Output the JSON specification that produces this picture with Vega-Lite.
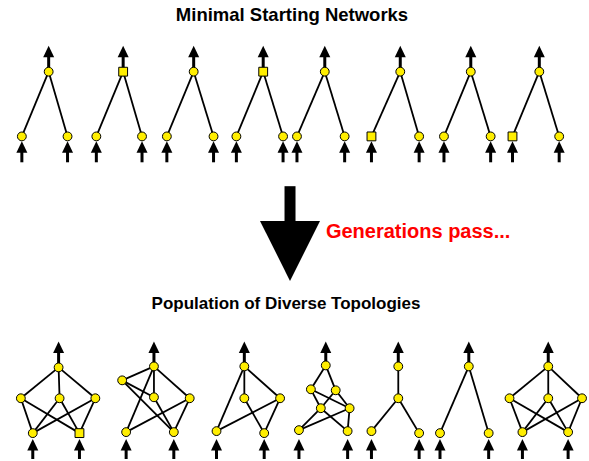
{
  "$schema": "https://vega.github.io/schema/vega-lite/v6.json",
  "width": 589,
  "height": 461,
  "padding": 0,
  "autosize": {"type": "fit", "contains": "padding"},
  "background": "white",
  "config": {"view": {"stroke": null}},
  "datasets": {
    "edges": [
      {"x": 49, "y": 72, "x2": 22, "y2": 137}, {"x": 49, "y": 72, "x2": 68, "y2": 137},
      {"x": 124, "y": 72, "x2": 97, "y2": 137}, {"x": 124, "y": 72, "x2": 143, "y2": 137},
      {"x": 195, "y": 72, "x2": 168, "y2": 137}, {"x": 195, "y": 72, "x2": 215, "y2": 137},
      {"x": 265, "y": 72, "x2": 238, "y2": 137}, {"x": 265, "y": 72, "x2": 285, "y2": 137},
      {"x": 327, "y": 72, "x2": 299, "y2": 137}, {"x": 327, "y": 72, "x2": 347, "y2": 137},
      {"x": 403, "y": 72, "x2": 374, "y2": 137}, {"x": 403, "y": 72, "x2": 422, "y2": 137},
      {"x": 474, "y": 72, "x2": 447, "y2": 137}, {"x": 474, "y": 72, "x2": 494, "y2": 137},
      {"x": 543, "y": 72, "x2": 516, "y2": 137}, {"x": 543, "y": 72, "x2": 563, "y2": 137},

      {"x": 59, "y": 369, "x2": 21, "y2": 400}, {"x": 59, "y": 369, "x2": 60, "y2": 400}, {"x": 59, "y": 369, "x2": 96, "y2": 400},
      {"x": 21, "y": 400, "x2": 33, "y2": 435}, {"x": 21, "y": 400, "x2": 80, "y2": 435},
      {"x": 60, "y": 400, "x2": 33, "y2": 435}, {"x": 60, "y": 400, "x2": 80, "y2": 435},
      {"x": 96, "y": 400, "x2": 33, "y2": 435}, {"x": 96, "y": 400, "x2": 80, "y2": 435},

      {"x": 155, "y": 368, "x2": 123, "y2": 382}, {"x": 155, "y": 368, "x2": 155, "y2": 399},
      {"x": 155, "y": 368, "x2": 191, "y2": 400}, {"x": 155, "y": 368, "x2": 127, "y2": 434},
      {"x": 123, "y": 382, "x2": 155, "y2": 399}, {"x": 123, "y": 382, "x2": 175, "y2": 434},
      {"x": 155, "y": 399, "x2": 175, "y2": 434},
      {"x": 191, "y": 400, "x2": 127, "y2": 434}, {"x": 191, "y": 400, "x2": 175, "y2": 434},

      {"x": 246, "y": 368, "x2": 246, "y2": 400}, {"x": 246, "y": 368, "x2": 282, "y2": 400},
      {"x": 246, "y": 368, "x2": 218, "y2": 433}, {"x": 246, "y": 400, "x2": 266, "y2": 435},
      {"x": 282, "y": 400, "x2": 218, "y2": 433}, {"x": 282, "y": 400, "x2": 266, "y2": 435},

      {"x": 328, "y": 367, "x2": 313, "y2": 391}, {"x": 328, "y": 367, "x2": 338, "y2": 392},
      {"x": 313, "y": 391, "x2": 323, "y2": 410}, {"x": 313, "y": 391, "x2": 352, "y2": 410},
      {"x": 338, "y": 392, "x2": 323, "y2": 410}, {"x": 338, "y": 392, "x2": 352, "y2": 410},
      {"x": 323, "y": 410, "x2": 301, "y2": 432}, {"x": 323, "y": 410, "x2": 350, "y2": 433},
      {"x": 352, "y": 410, "x2": 301, "y2": 432}, {"x": 352, "y": 410, "x2": 350, "y2": 433},

      {"x": 401, "y": 368, "x2": 401, "y2": 400}, {"x": 401, "y": 400, "x2": 374, "y2": 433},
      {"x": 401, "y": 400, "x2": 422, "y2": 435},

      {"x": 472, "y": 368, "x2": 443, "y2": 435}, {"x": 472, "y": 368, "x2": 492, "y2": 435},

      {"x": 552, "y": 368, "x2": 513, "y2": 400}, {"x": 552, "y": 368, "x2": 552, "y2": 400}, {"x": 552, "y": 368, "x2": 586, "y2": 400},
      {"x": 513, "y": 400, "x2": 526, "y2": 434}, {"x": 513, "y": 400, "x2": 572, "y2": 434},
      {"x": 552, "y": 400, "x2": 526, "y2": 434}, {"x": 552, "y": 400, "x2": 572, "y2": 434},
      {"x": 586, "y": 400, "x2": 526, "y2": 434}, {"x": 586, "y": 400, "x2": 572, "y2": 434}
    ],
    "nodes": [
      {"x": 49, "y": 72, "kind": "c"}, {"x": 22, "y": 137, "kind": "c"}, {"x": 68, "y": 137, "kind": "c"},
      {"x": 124, "y": 72, "kind": "s"}, {"x": 97, "y": 137, "kind": "c"}, {"x": 143, "y": 137, "kind": "c"},
      {"x": 195, "y": 72, "kind": "c"}, {"x": 168, "y": 137, "kind": "c"}, {"x": 215, "y": 137, "kind": "c"},
      {"x": 265, "y": 72, "kind": "s"}, {"x": 238, "y": 137, "kind": "c"}, {"x": 285, "y": 137, "kind": "c"},
      {"x": 327, "y": 72, "kind": "c"}, {"x": 299, "y": 137, "kind": "c"}, {"x": 347, "y": 137, "kind": "c"},
      {"x": 403, "y": 72, "kind": "c"}, {"x": 374, "y": 137, "kind": "s"}, {"x": 422, "y": 137, "kind": "c"},
      {"x": 474, "y": 72, "kind": "c"}, {"x": 447, "y": 137, "kind": "c"}, {"x": 494, "y": 137, "kind": "c"},
      {"x": 543, "y": 72, "kind": "c"}, {"x": 516, "y": 137, "kind": "s"}, {"x": 563, "y": 137, "kind": "c"},

      {"x": 59, "y": 369, "kind": "c"}, {"x": 21, "y": 400, "kind": "c"}, {"x": 60, "y": 400, "kind": "c"},
      {"x": 96, "y": 400, "kind": "c"}, {"x": 33, "y": 435, "kind": "c"}, {"x": 80, "y": 435, "kind": "s"},

      {"x": 155, "y": 368, "kind": "c"}, {"x": 123, "y": 382, "kind": "c"}, {"x": 155, "y": 399, "kind": "c"},
      {"x": 191, "y": 400, "kind": "c"}, {"x": 127, "y": 434, "kind": "c"}, {"x": 175, "y": 434, "kind": "c"},

      {"x": 246, "y": 368, "kind": "c"}, {"x": 246, "y": 400, "kind": "c"}, {"x": 282, "y": 400, "kind": "c"},
      {"x": 218, "y": 433, "kind": "c"}, {"x": 266, "y": 435, "kind": "c"},

      {"x": 328, "y": 367, "kind": "c"}, {"x": 313, "y": 391, "kind": "c"}, {"x": 338, "y": 392, "kind": "c"},
      {"x": 323, "y": 410, "kind": "c"}, {"x": 352, "y": 410, "kind": "c"}, {"x": 301, "y": 432, "kind": "c"},
      {"x": 350, "y": 433, "kind": "c"},

      {"x": 401, "y": 368, "kind": "c"}, {"x": 401, "y": 400, "kind": "c"}, {"x": 374, "y": 433, "kind": "c"},
      {"x": 422, "y": 435, "kind": "c"},

      {"x": 472, "y": 368, "kind": "c"}, {"x": 443, "y": 435, "kind": "c"}, {"x": 492, "y": 435, "kind": "c"},

      {"x": 552, "y": 368, "kind": "c"}, {"x": 513, "y": 400, "kind": "c"}, {"x": 552, "y": 400, "kind": "c"},
      {"x": 586, "y": 400, "kind": "c"}, {"x": 526, "y": 434, "kind": "c"}, {"x": 572, "y": 434, "kind": "c"}
    ],
    "arrows": [
      {"x": 49, "head": 52, "end": 68}, {"x": 124, "head": 52, "end": 68}, {"x": 195, "head": 52, "end": 68},
      {"x": 265, "head": 52, "end": 68}, {"x": 327, "head": 52, "end": 68}, {"x": 403, "head": 52, "end": 68},
      {"x": 474, "head": 52, "end": 68}, {"x": 543, "head": 52, "end": 68},
      {"x": 22, "head": 148, "end": 163}, {"x": 68, "head": 148, "end": 163},
      {"x": 97, "head": 148, "end": 163}, {"x": 143, "head": 148, "end": 163},
      {"x": 168, "head": 148, "end": 163}, {"x": 215, "head": 148, "end": 163},
      {"x": 238, "head": 148, "end": 163}, {"x": 285, "head": 148, "end": 163},
      {"x": 299, "head": 148, "end": 163}, {"x": 347, "head": 148, "end": 163},
      {"x": 374, "head": 148, "end": 163}, {"x": 422, "head": 148, "end": 163},
      {"x": 447, "head": 148, "end": 163}, {"x": 494, "head": 148, "end": 163},
      {"x": 516, "head": 148, "end": 163}, {"x": 563, "head": 148, "end": 163},
      {"x": 59, "head": 349, "end": 366}, {"x": 155, "head": 349, "end": 366}, {"x": 246, "head": 349, "end": 366},
      {"x": 328, "head": 349, "end": 366}, {"x": 401, "head": 349, "end": 366}, {"x": 472, "head": 349, "end": 366},
      {"x": 552, "head": 349, "end": 366},
      {"x": 33, "head": 447, "end": 461}, {"x": 80, "head": 447, "end": 461},
      {"x": 127, "head": 447, "end": 461}, {"x": 175, "head": 447, "end": 461},
      {"x": 218, "head": 447, "end": 461}, {"x": 266, "head": 447, "end": 461},
      {"x": 301, "head": 447, "end": 461}, {"x": 350, "head": 447, "end": 461},
      {"x": 374, "head": 447, "end": 461}, {"x": 422, "head": 447, "end": 461},
      {"x": 443, "head": 447, "end": 461}, {"x": 492, "head": 447, "end": 461},
      {"x": 526, "head": 447, "end": 461}, {"x": 572, "head": 447, "end": 461}
    ],
    "bigarrow": [{"x": 292, "y": 187, "y2": 224, "head": 252}],
    "title1": [{"x": 294, "y": 15, "label": "Minimal Starting Networks"}],
    "title2": [{"x": 288, "y": 305, "label": "Population of Diverse Topologies"}],
    "note": [{"x": 421, "y": 233, "label": "Generations pass..."}]
  },
  "layer": [
    {
      "data": {"name": "edges"},
      "mark": {"type": "rule", "color": "black", "strokeWidth": 1.8},
      "encoding": {
        "x": {"field": "x", "type": "quantitative", "scale": {"domain": [0, 589], "nice": false, "zero": false}, "axis": null},
        "y": {"field": "y", "type": "quantitative", "scale": {"domain": [0, 461], "nice": false, "zero": false, "reverse": true}, "axis": null},
        "x2": {"field": "x2"},
        "y2": {"field": "y2"}
      }
    },
    {
      "data": {"name": "arrows"},
      "mark": {"type": "rule", "color": "black", "strokeWidth": 3},
      "encoding": {
        "x": {"field": "x", "type": "quantitative"},
        "y": {"field": "head", "type": "quantitative"},
        "y2": {"field": "end"}
      }
    },
    {
      "data": {"name": "arrows"},
      "mark": {"type": "point", "filled": true, "color": "black", "opacity": 1, "size": 121, "shape": "M0,-1.1L1,1L-1,1Z"},
      "encoding": {
        "x": {"field": "x", "type": "quantitative"},
        "y": {"field": "head", "type": "quantitative"}
      }
    },
    {
      "data": {"name": "nodes"},
      "mark": {"type": "point", "filled": true, "fill": "#ffee00", "stroke": "black", "strokeWidth": 1, "opacity": 1, "size": 78},
      "encoding": {
        "x": {"field": "x", "type": "quantitative"},
        "y": {"field": "y", "type": "quantitative"},
        "shape": {"field": "kind", "type": "nominal", "scale": {"domain": ["c", "s"], "range": ["circle", "square"]}, "legend": null}
      }
    },
    {
      "data": {"name": "bigarrow"},
      "mark": {"type": "rule", "color": "black", "strokeWidth": 11, "strokeCap": "butt"},
      "encoding": {
        "x": {"field": "x", "type": "quantitative"},
        "y": {"field": "y", "type": "quantitative"},
        "y2": {"field": "y2"}
      }
    },
    {
      "data": {"name": "bigarrow"},
      "mark": {"type": "point", "filled": true, "color": "black", "opacity": 1, "size": 3600, "shape": "M-1,-1L1,-1L0,1Z"},
      "encoding": {
        "x": {"field": "x", "type": "quantitative"},
        "y": {"field": "head", "type": "quantitative"}
      }
    },
    {
      "data": {"name": "title1"},
      "mark": {"type": "text", "font": "Liberation Sans", "fontWeight": "bold", "fontSize": 18.5, "color": "black", "align": "center", "baseline": "middle"},
      "encoding": {
        "x": {"field": "x", "type": "quantitative"},
        "y": {"field": "y", "type": "quantitative"},
        "text": {"field": "label"}
      }
    },
    {
      "data": {"name": "title2"},
      "mark": {"type": "text", "font": "Liberation Sans", "fontWeight": "bold", "fontSize": 17, "color": "black", "align": "center", "baseline": "middle"},
      "encoding": {
        "x": {"field": "x", "type": "quantitative"},
        "y": {"field": "y", "type": "quantitative"},
        "text": {"field": "label"}
      }
    },
    {
      "data": {"name": "note"},
      "mark": {"type": "text", "font": "Liberation Sans", "fontWeight": "bold", "fontSize": 20, "color": "#ff0000", "align": "center", "baseline": "middle"},
      "encoding": {
        "x": {"field": "x", "type": "quantitative"},
        "y": {"field": "y", "type": "quantitative"},
        "text": {"field": "label"}
      }
    }
  ]
}
